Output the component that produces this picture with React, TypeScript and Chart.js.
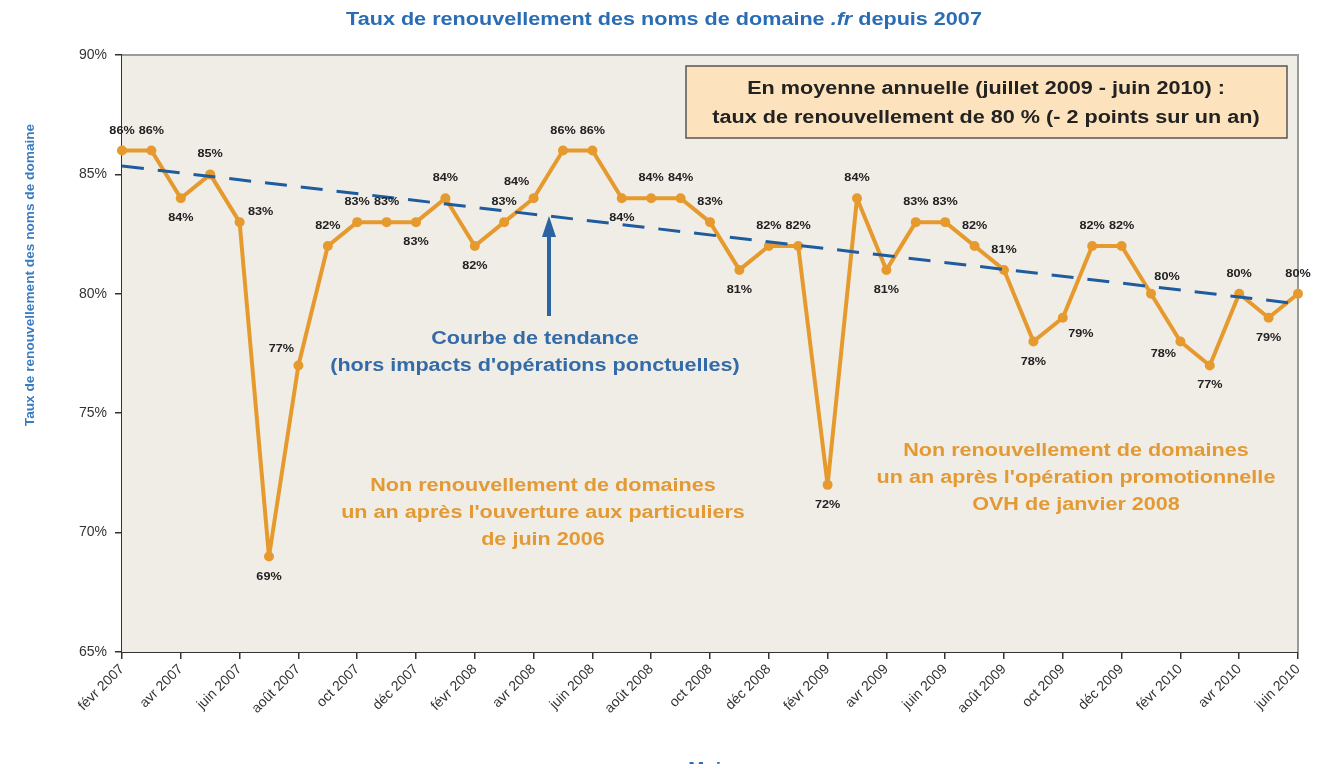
import React, { useEffect, useRef } from 'react';
import { Chart, registerables } from 'chart.js';

Chart.register(...registerables);

const months = [
  'févr 2007', 'mars 2007', 'avr 2007', 'mai 2007', 'juin 2007', 'juil 2007', 'août 2007', 'sept 2007', 'oct 2007', 'nov 2007', 'déc 2007',
  'janv 2008', 'févr 2008', 'mars 2008', 'avr 2008', 'mai 2008', 'juin 2008', 'juil 2008', 'août 2008', 'sept 2008', 'oct 2008', 'nov 2008', 'déc 2008',
  'janv 2009', 'févr 2009', 'mars 2009', 'avr 2009', 'mai 2009', 'juin 2009', 'juil 2009', 'août 2009', 'sept 2009', 'oct 2009', 'nov 2009', 'déc 2009',
  'janv 2010', 'févr 2010', 'mars 2010', 'avr 2010', 'mai 2010', 'juin 2010',
];

const renewalRate = [
  86, 86, 84, 85, 83, 69, 77, 82, 83, 83, 83,
  84, 82, 83, 84, 86, 86, 84, 84, 84, 83, 81, 82,
  82, 72, 84, 81, 83, 83, 82, 81, 78, 79, 82, 82,
  80, 78, 77, 80, 79, 80,
];

// trend line end points (first and last month)
const trendValues = [85.35, 79.58];

// placement of each value label relative to its point
const labelPlacement = [
  'a', 'a', 'b', 'a', 'r', 'b', 'al', 'a', 'a', 'a', 'b',
  'a', 'b', 'a', 'al', 'a', 'a', 'b', 'a', 'a', 'a', 'b', 'a',
  'a', 'b', 'a', 'b', 'a', 'a', 'a', 'a', 'b', 'br', 'a', 'a',
  'ar', 'bl', 'b', 'a', 'b', 'a',
];

const yMin = 65;
const yMax = 90;
const yStep = 5;

const titleParts = ['Taux de renouvellement des noms de domaine ', '.fr', ' depuis 2007'];
const yAxisTitle = 'Taux de renouvellement des noms de domaine';
const xAxisTitle = 'Mois';
const boxLines = ['En moyenne annuelle (juillet 2009 - juin 2010) :', 'taux de renouvellement de 80 % (- 2 points sur un an)'];
const trendNote = ['Courbe de tendance', "(hors impacts d'opérations ponctuelles)"];
const note2006 = ['Non renouvellement de domaines', "un an après l'ouverture aux particuliers", 'de juin 2006'];
const note2008 = ['Non renouvellement de domaines', "un an après l'opération promotionnelle", 'OVH de janvier 2008'];

const FONT = '"Liberation Sans", Arial, sans-serif';
const ORANGE = '#e69a2e';
const TREND_BLUE = '#1f5c9e';
const SX = 1.2;

function drawText(
  ctx: CanvasRenderingContext2D,
  s: string,
  x: number,
  y: number,
  size: number,
  color: string,
  bold = true,
  align: CanvasTextAlign = 'center',
  sx = SX,
  italic = false,
) {
  ctx.save();
  ctx.translate(x, y);
  ctx.scale(sx, 1);
  ctx.font = `${italic ? 'italic ' : ''}${bold ? 'bold ' : ''}${size}px ${FONT}`;
  ctx.fillStyle = color;
  ctx.textAlign = align;
  ctx.textBaseline = 'middle';
  ctx.fillText(s, 0, 0);
  ctx.restore();
}

const offsets: Record<string, [number, number]> = {
  a: [0, -20],
  b: [0, 20],
  r: [21, -10],
  al: [-17, -16],
  ar: [16, -17],
  br: [18, 16],
  bl: [-17, 12],
};

const decorPlugin = {
  id: 'decor',
  beforeDatasetsDraw(chart: any) {
    const { ctx, chartArea: a } = chart;
    ctx.save();
    ctx.fillStyle = '#f0ede7';
    ctx.fillRect(a.left, a.top, a.right - a.left, a.bottom - a.top);
    ctx.strokeStyle = '#9a9a9a';
    ctx.lineWidth = 2;
    ctx.beginPath();
    ctx.moveTo(a.left, a.top);
    ctx.lineTo(a.right, a.top);
    ctx.lineTo(a.right, a.bottom);
    ctx.stroke();
    ctx.restore();
  },
  afterDatasetsDraw(chart: any) {
    const { ctx } = chart;
    const meta = chart.getDatasetMeta(1);
    meta.data.forEach((pt: any, i: number) => {
      const [dx, dy] = offsets[labelPlacement[i]] || [0, -20];
      drawText(ctx, `${renewalRate[i]}%`, pt.x + dx, pt.y + dy, 11, '#222', true, 'center', 1.15);
    });
  },
  afterDraw(chart: any) {
    const { ctx } = chart;
    // title
    ctx.save();
    const fs = 18;
    ctx.font = `bold ${fs}px ${FONT}`;
    const w1 = ctx.measureText(titleParts[0]).width;
    const w3 = ctx.measureText(titleParts[2]).width;
    ctx.font = `italic bold ${fs}px ${FONT}`;
    const w2 = ctx.measureText(titleParts[1]).width;
    ctx.restore();
    const total = (w1 + w2 + w3) * SX;
    let tx = 664 - total / 2;
    const ty = 20;
    const titleColor = '#2a6db5';
    drawText(ctx, titleParts[0], tx, ty, fs, titleColor, true, 'left');
    tx += w1 * SX;
    drawText(ctx, titleParts[1], tx, ty, fs, titleColor, true, 'left', SX, true);
    tx += w2 * SX;
    drawText(ctx, titleParts[2], tx, ty, fs, titleColor, true, 'left');

    // y axis title
    ctx.save();
    ctx.translate(30, 275);
    ctx.rotate(-Math.PI / 2);
    drawText(ctx, yAxisTitle, 0, 0, 13, '#3a7cc0', true, 'center', 1.05);
    ctx.restore();

    // x axis title (mostly cut off at the bottom)
    drawText(ctx, xAxisTitle, 710, 770, 16, '#2a6db5');

    // summary box
    ctx.save();
    ctx.fillStyle = '#fde3bd';
    ctx.fillRect(686, 66, 601, 72);
    ctx.strokeStyle = '#555';
    ctx.lineWidth = 1.5;
    ctx.strokeRect(686, 66, 601, 72);
    ctx.restore();
    drawText(ctx, boxLines[0], 986, 89, 18, '#222');
    drawText(ctx, boxLines[1], 986, 118, 18, '#222');

    // arrow to the trend line
    ctx.save();
    ctx.strokeStyle = '#2b64a0';
    ctx.fillStyle = '#2b64a0';
    ctx.lineWidth = 4;
    ctx.beginPath();
    ctx.moveTo(549, 316);
    ctx.lineTo(549, 232);
    ctx.stroke();
    ctx.beginPath();
    ctx.moveTo(549, 216);
    ctx.lineTo(542, 237);
    ctx.lineTo(556, 237);
    ctx.closePath();
    ctx.fill();
    ctx.restore();

    drawText(ctx, trendNote[0], 535, 339, 18, '#336ba8');
    drawText(ctx, trendNote[1], 535, 366, 18, '#336ba8');

    note2006.forEach((s, i) => drawText(ctx, s, 543, 486 + i * 27, 18, '#e39a35'));
    note2008.forEach((s, i) => drawText(ctx, s, 1076, 451 + i * 27, 18, '#e39a35'));
  },
};

export default function App() {
  const canvasRef = useRef<HTMLCanvasElement | null>(null);

  useEffect(() => {
    if (!canvasRef.current) return;
    Chart.defaults.font.family = FONT;
    const chart = new Chart(canvasRef.current, {
      type: 'line',
      data: {
        labels: months,
        datasets: [
          {
            label: 'Tendance',
            data: [
              { x: months[0], y: trendValues[0] },
              { x: months[months.length - 1], y: trendValues[1] },
            ] as any,
            borderColor: TREND_BLUE,
            borderWidth: 3,
            borderDash: [22, 14],
            pointRadius: 0,
            fill: false,
            tension: 0,
          },
          {
            label: 'Taux de renouvellement',
            data: renewalRate,
            borderColor: ORANGE,
            backgroundColor: ORANGE,
            borderWidth: 4,
            borderJoinStyle: 'round',
            pointRadius: 5,
            pointBackgroundColor: ORANGE,
            pointBorderWidth: 0,
            fill: false,
            tension: 0,
            clip: 10 as any,
          },
        ],
      },
      options: {
        responsive: false,
        animation: false,
        devicePixelRatio: 1,
        layout: { padding: { top: 55, right: 19, left: 0, bottom: 0 } },
        plugins: {
          legend: { display: false },
          title: { display: false },
          tooltip: { enabled: false },
        },
        scales: {
          x: {
            type: 'category',
            grid: { drawOnChartArea: false, drawTicks: true, tickLength: 7, color: '#333', lineWidth: 1.5 },
            border: { color: '#333', width: 2 },
            ticks: {
              autoSkip: false,
              maxRotation: 45,
              minRotation: 45,
              padding: 2,
              color: '#333',
              font: { size: 14, family: FONT },
            },
            afterBuildTicks: (scale: any) => {
              scale.ticks = scale.ticks.filter((_t: any, i: number) => i % 2 === 0);
            },
            afterFit: (scale: any) => {
              scale.height = 112;
            },
          },
          y: {
            min: yMin,
            max: yMax,
            grid: { drawOnChartArea: false, drawTicks: true, tickLength: 7, color: '#333', lineWidth: 1.5 },
            border: { color: '#333', width: 2 },
            ticks: {
              stepSize: yStep,
              padding: 8,
              color: '#333',
              font: { size: 14, family: FONT },
              callback: (v: any) => `${v}%`,
            },
            afterFit: (scale: any) => {
              scale.width = 122;
            },
          },
        },
      },
      plugins: [decorPlugin],
    });
    return () => chart.destroy();
  }, []);

  return (
    <div style={{ position: 'absolute', left: 0, top: 0, width: 1317, height: 764, background: '#fff' }}>
      <canvas ref={canvasRef} width={1317} height={764} />
    </div>
  );
}
